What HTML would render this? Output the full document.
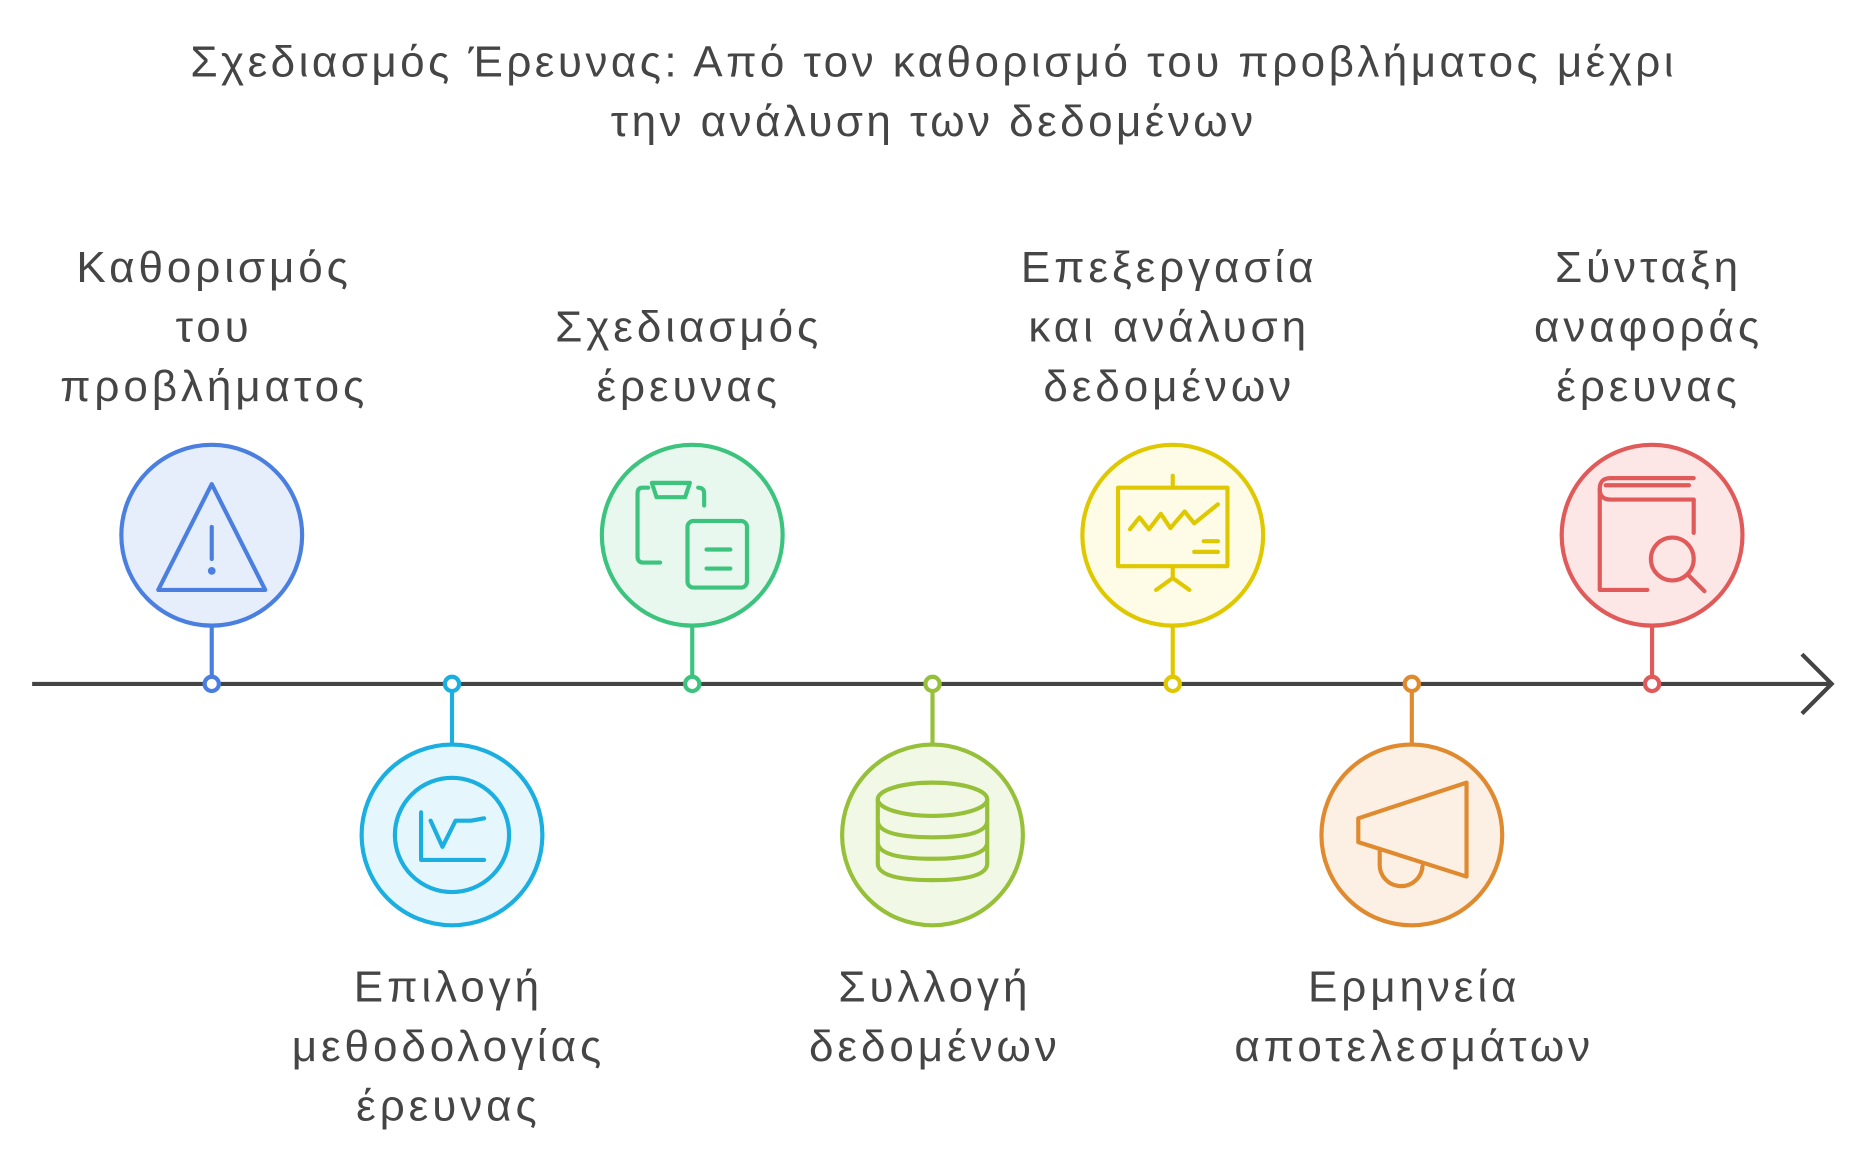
<!DOCTYPE html>
<html><head><meta charset="utf-8"><style>
html,body{margin:0;padding:0;background:#fff;}
svg{display:block}
text{font-family:"Liberation Sans","DejaVu Sans",sans-serif;fill:#454545;font-size:37px;text-anchor:middle;dominant-baseline:central;letter-spacing:3.3px}
</style></head><body>
<svg width="1865" height="1165" viewBox="0 0 1568 979.5" xmlns="http://www.w3.org/2000/svg">
<text x="785" y="52" font-size="36" style="letter-spacing:2.9px">Σχεδιασμός Έρευνας: Από τον καθορισμό του προβλήματος μέχρι</text>
<text x="785" y="102" font-size="36" style="letter-spacing:2.9px">την ανάλυση των δεδομένων</text>

<line x1="27" y1="575" x2="1540" y2="575" stroke="#444" stroke-width="3.5"/>
<polyline points="1515,550 1540,575 1515,600" fill="none" stroke="#444" stroke-width="3.5"/>

<g stroke-width="3.5" fill="none" stroke-linecap="round" stroke-linejoin="round">
<line x1="178" y1="526" x2="178" y2="569" stroke="#4a7fe0"/>
<circle cx="178" cy="450" r="76" fill="#e6eefc" stroke="#4a7fe0"/>
<circle cx="178" cy="575" r="6" fill="#fff" stroke="#4a7fe0"/>
<path d="M178,407 L223,496 L133,496 Z" stroke="#4a7fe0"/>
<line x1="178" y1="443" x2="178" y2="470" stroke="#4a7fe0"/>
<circle cx="178" cy="480" r="1.5" fill="#4a7fe0" stroke="#4a7fe0"/>
<line x1="380" y1="581" x2="380" y2="626" stroke="#1aafe0"/>
<circle cx="380" cy="702" r="76" fill="#e6f6fd" stroke="#1aafe0"/>
<circle cx="380" cy="575" r="6" fill="#fff" stroke="#1aafe0"/>
<circle cx="380" cy="702" r="48" stroke="#1aafe0"/>
<polyline points="354,683 354,723 407,723" stroke="#1aafe0"/>
<polyline points="362,690 372,712 383,690 396,690 407,688" stroke="#1aafe0"/>
<line x1="582" y1="526" x2="582" y2="569" stroke="#3cc47f"/>
<circle cx="582" cy="450" r="76" fill="#e9f8ef" stroke="#3cc47f"/>
<circle cx="582" cy="575" r="6" fill="#fff" stroke="#3cc47f"/>
<path d="M548,406 h32 l-4,12 h-24 z" stroke="#3cc47f"/>
<path d="M545,410 h-5 q-4,0 -4,5 v53 q0,5 5,5 h14 M587,410 q5,0 5,5 v10" stroke="#3cc47f"/>
<rect x="578" y="438" width="50" height="56" rx="5" stroke="#3cc47f"/>
<line x1="594" y1="462" x2="614" y2="462" stroke="#3cc47f"/>
<line x1="594" y1="478" x2="614" y2="478" stroke="#3cc47f"/>
<line x1="784" y1="581" x2="784" y2="626" stroke="#96c03a"/>
<circle cx="784" cy="702" r="76" fill="#f2f8e6" stroke="#96c03a"/>
<circle cx="784" cy="575" r="6" fill="#fff" stroke="#96c03a"/>
<ellipse cx="784" cy="672" rx="46" ry="14" stroke="#96c03a"/>
<path d="M738,672 v54 q0,14 46,14 q46,0 46,-14 v-54 M738,690 q0,14 46,14 q46,0 46,-14 M738,708 q0,14 46,14 q46,0 46,-14" stroke="#96c03a"/>
<line x1="986" y1="526" x2="986" y2="569" stroke="#e0c800"/>
<circle cx="986" cy="450" r="76" fill="#fefbe6" stroke="#e0c800"/>
<circle cx="986" cy="575" r="6" fill="#fff" stroke="#e0c800"/>
<rect x="940" y="410" width="92" height="66" stroke="#e0c800"/>
<line x1="986" y1="400" x2="986" y2="410" stroke="#e0c800"/>
<path d="M986,476 V486 L972,496 M986,486 L1000,496" stroke="#e0c800"/>
<polyline points="950,445 958,435 966,445 976,432 984,444 996,430 1004,440 1024,424" stroke="#e0c800"/>
<line x1="1012" y1="455" x2="1024" y2="455" stroke="#e0c800"/>
<line x1="1004" y1="464" x2="1024" y2="464" stroke="#e0c800"/>
<line x1="1187" y1="581" x2="1187" y2="626" stroke="#e08a30"/>
<circle cx="1187" cy="702" r="76" fill="#fcefe3" stroke="#e08a30"/>
<circle cx="1187" cy="575" r="6" fill="#fff" stroke="#e08a30"/>
<path d="M1142,688 L1233,658 L1233,737 L1142,708 Z" stroke="#e08a30"/>
<path d="M1160,714 v12 a18,18 0 0 0 36,2" stroke="#e08a30"/>
<line x1="1389" y1="526" x2="1389" y2="569" stroke="#e05a5a"/>
<circle cx="1389" cy="450" r="76" fill="#fde6e6" stroke="#e05a5a"/>
<circle cx="1389" cy="575" r="6" fill="#fff" stroke="#e05a5a"/>
<path d="M1424,402 h-70 q-9,0 -9,9 q0,9 9,9 h70 M1350,408 h70" stroke="#e05a5a"/>
<path d="M1345,411 v85 h40 M1424,420 v28" stroke="#e05a5a"/>
<circle cx="1406" cy="470" r="18" stroke="#e05a5a"/>
<line x1="1419" y1="483" x2="1433" y2="497" stroke="#e05a5a"/>
</g>

<text x="180" y="225">Καθορισμός</text>
<text x="180" y="275">του</text>
<text x="180" y="325">προβλήματος</text>
<text x="579" y="275">Σχεδιασμός</text>
<text x="579" y="325">έρευνας</text>
<text x="983" y="225">Επεξεργασία</text>
<text x="983" y="275">και ανάλυση</text>
<text x="983" y="325">δεδομένων</text>
<text x="1386" y="225">Σύνταξη</text>
<text x="1386" y="275">αναφοράς</text>
<text x="1386" y="325">έρευνας</text>
<text x="377" y="830">Επιλογή</text>
<text x="377" y="880">μεθοδολογίας</text>
<text x="377" y="930">έρευνας</text>
<text x="786" y="830">Συλλογή</text>
<text x="786" y="880">δεδομένων</text>
<text x="1189" y="830">Ερμηνεία</text>
<text x="1189" y="880">αποτελεσμάτων</text>
</svg>
</body></html>
